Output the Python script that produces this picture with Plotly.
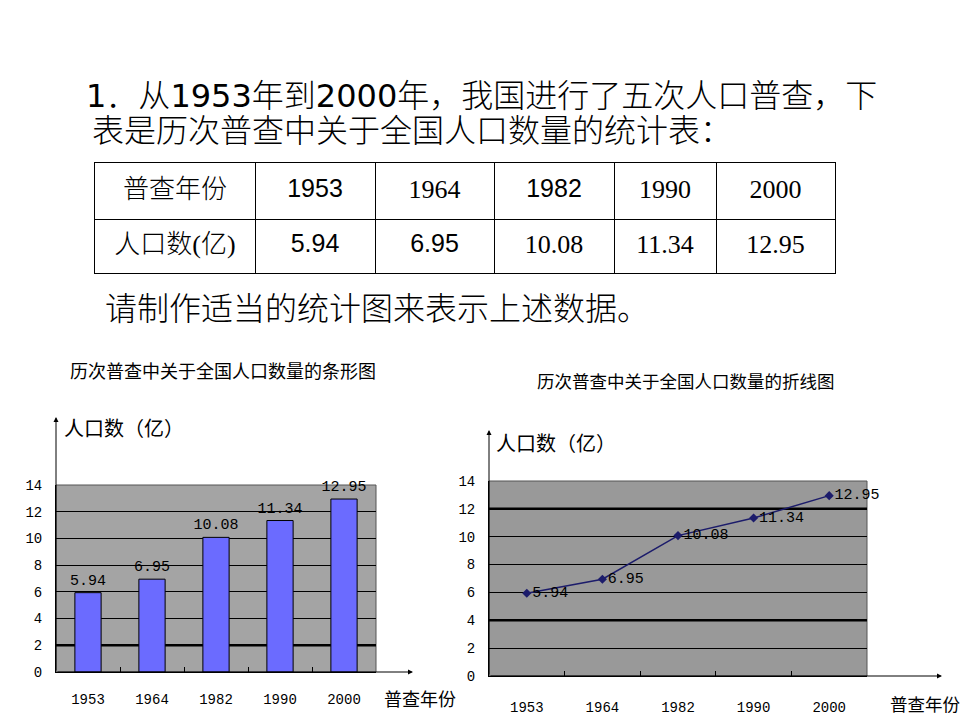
import plotly.graph_objects as go

# ---- data ----
years = ["1953", "1964", "1982", "1990", "2000"]
population = [5.94, 6.95, 10.08, 11.34, 12.95]
pop_labels = ["5.94", "6.95", "10.08", "11.34", "12.95"]
y_ticks = [0, 2, 4, 6, 8, 10, 12, 14]
row_head_year = "普查年份"
row_head_pop = "人口数(亿)"
# table column widths and row heights (layout, in px)
col_w = [160, 120, 119, 120, 102, 119]
row_h = [54, 56]   # bottom row, top row

W, H = 960, 720
CJK = "Noto Sans CJK SC"
MONO = "Liberation Mono"
SERIF = "Liberation Serif, " + CJK
SANS = "Liberation Sans, " + CJK

def px(x):
    return x / W

def py(y):
    return 1 - y / H

fig = go.Figure()

# ---- table drawn on its own cartesian axes ----
col_edges = [0]
for w in col_w:
    col_edges.append(col_edges[-1] + w)
row_edges = [0, row_h[0], row_h[0] + row_h[1]]
col_mid = [(col_edges[i] + col_edges[i + 1]) / 2 for i in range(len(col_w))]
row_mid = [(row_edges[i] + row_edges[i + 1]) / 2 for i in range(2)]

top_row = [row_head_year] + years
bot_row = [row_head_pop] + pop_labels
top_fonts = [SERIF, SANS, SERIF, SANS, SERIF, SERIF]
bot_fonts = [SERIF, SANS, SANS, SERIF, SERIF, SERIF]
top_sizes = [26, 25, 26, 25, 26, 26]
bot_sizes = [26, 25, 25, 26, 26, 26]

fig.add_trace(go.Scatter(
    x=col_mid + col_mid, y=[row_mid[1]] * 6 + [row_mid[0]] * 6,
    xaxis="x3", yaxis="y3", mode="text",
    text=top_row + bot_row, textposition="middle center",
    textfont=dict(family=top_fonts + bot_fonts, size=top_sizes + bot_sizes, color="black",
                  weight=300),
    hoverinfo="skip", cliponaxis=False,
))

# ---- bar chart ----
fig.add_trace(go.Bar(
    x=years, y=population, xaxis="x", yaxis="y",
    width=0.41,
    marker=dict(color="#6B6BFF", line=dict(color="black", width=1)),
    text=pop_labels, textposition="outside", constraintext="none",
    textfont=dict(family=MONO, size=15, color="black"),
    cliponaxis=False,
))

# ---- line chart ----
fig.add_trace(go.Scatter(
    x=years, y=population, xaxis="x2", yaxis="y2",
    mode="lines+markers+text",
    line=dict(color="#1C1C6B", width=1.5),
    marker=dict(symbol="diamond", size=7, color="#1C1C6B"),
    text=pop_labels, textposition="middle right",
    textfont=dict(family=MONO, size=15, color="black"),
    cliponaxis=False,
))

xcommon = dict(type="category", range=[-0.5, 4.5], showline=True, linecolor="black",
               linewidth=1, ticks="inside", tickson="boundaries", ticklen=5,
               tickcolor="black", showgrid=False, zeroline=False, automargin=False,
               tickfont=dict(family=MONO, size=14, color="black"), fixedrange=True)
ycommon = dict(range=[0, 14], tickvals=y_ticks, showline=True, linecolor="black",
               linewidth=1, ticks="", showgrid=True, gridcolor="black", gridwidth=1,
               zeroline=False, ticklabelstandoff=10, automargin=False,
               tickfont=dict(family=MONO, size=14, color="black"), fixedrange=True)

fig.update_layout(
    width=W, height=H, margin=dict(l=0, r=0, t=0, b=0, pad=0),
    paper_bgcolor="white", plot_bgcolor="rgba(0,0,0,0)",
    showlegend=False,
    xaxis=dict(xcommon, domain=[px(56), px(376)], anchor="y", ticklabelstandoff=14),
    yaxis=dict(ycommon, domain=[py(672), py(485)], anchor="x"),
    xaxis2=dict(xcommon, domain=[px(489), px(867)], anchor="y2", ticklabelstandoff=18),
    yaxis2=dict(ycommon, domain=[py(676), py(481)], anchor="x2"),
    xaxis3=dict(domain=[px(95), px(835)], anchor="y3", range=[0, col_edges[-1]],
                tickvals=col_edges, showgrid=True, gridcolor="black", gridwidth=1,
                showticklabels=False, ticks="", zeroline=False, showline=True,
                mirror=True, linecolor="black", linewidth=1, automargin=False,
                fixedrange=True),
    yaxis3=dict(domain=[py(273), py(163)], anchor="x3", range=[0, row_edges[-1]],
                tickvals=row_edges, showgrid=True, gridcolor="black", gridwidth=1,
                showticklabels=False, ticks="", zeroline=False, showline=True,
                mirror=True, linecolor="black", linewidth=1, automargin=False,
                fixedrange=True),
)

shapes = [
    dict(type="rect", xref="x domain", yref="y domain", x0=0, x1=1, y0=0, y1=1,
         fillcolor="#A4A4A4", line=dict(color="#555555", width=1), layer="below"),
    dict(type="rect", xref="x2 domain", yref="y2 domain", x0=0, x1=1, y0=0, y1=1,
         fillcolor="#999999", line=dict(color="#555555", width=1), layer="below"),
    dict(type="line", xref="x domain", yref="y", x0=0, x1=1, y0=2, y1=2,
         line=dict(color="black", width=2.5), layer="below"),
    dict(type="line", xref="x2 domain", yref="y2", x0=0, x1=1, y0=4, y1=4,
         line=dict(color="black", width=2.5), layer="below"),
    dict(type="line", xref="x2 domain", yref="y2", x0=0, x1=1, y0=12, y1=12,
         line=dict(color="black", width=2.5), layer="below"),
]
fig.update_layout(shapes=shapes)

ann = []
# axis arrows
ann.append(dict(xref="x domain", yref="y domain", x=0, y=255 / 187, ax=0, ay=255,
                text="", showarrow=True,
                arrowhead=2, arrowsize=1, arrowwidth=1, arrowcolor="black"))
ann.append(dict(xref="x domain", yref="y domain", x=357 / 320, y=0, ax=-357, ay=0,
                text="", showarrow=True, arrowhead=2, arrowsize=1, arrowwidth=1,
                arrowcolor="black"))
ann.append(dict(xref="x2 domain", yref="y2 domain", x=0, y=246 / 195, ax=0, ay=246,
                text="", showarrow=True, arrowhead=2, arrowsize=1, arrowwidth=1,
                arrowcolor="black"))
ann.append(dict(xref="x2 domain", yref="y2 domain", x=453 / 378, y=0, ax=-453, ay=0,
                text="", showarrow=True, arrowhead=2, arrowsize=1, arrowwidth=1,
                arrowcolor="black"))

def txt(x, y, s, size, family=CJK, xanchor="left", weight=400):
    ann.append(dict(xref="paper", yref="paper", x=px(x), y=py(y), text=s,
                    showarrow=False, xanchor=xanchor, yanchor="middle",
                    font=dict(family=family, size=size, color="black", weight=weight)))

txt(62, 427, "人口数（亿）", 20)
txt(494, 442, "人口数（亿）", 20)
txt(382, 698, "普查年份", 18)
txt(888, 703, "普查年份", 17.5)
txt(68, 370, "历次普查中关于全国人口数量的条形图", 18)
txt(535, 380, "历次普查中关于全国人口数量的折线图", 17.5)

HEAD = "DejaVu Sans, " + CJK
def d(s):
    return '<span style="font-weight:400">' + s + '</span>'

line1 = d("1") + "．从" + d("1953") + "年到" + d("2000") + "年，我国进行了五次人口普查，下"
txt(84, 96, line1, 32, HEAD, weight=300)
txt(90, 131, "表是历次普查中关于全国人口数量的统计表：", 32, HEAD, weight=300)
txt(103, 309, "请制作适当的统计图来表示上述数据。", 32, HEAD, weight=300)

fig.update_layout(annotations=ann)

fig.write_html("out.html")
